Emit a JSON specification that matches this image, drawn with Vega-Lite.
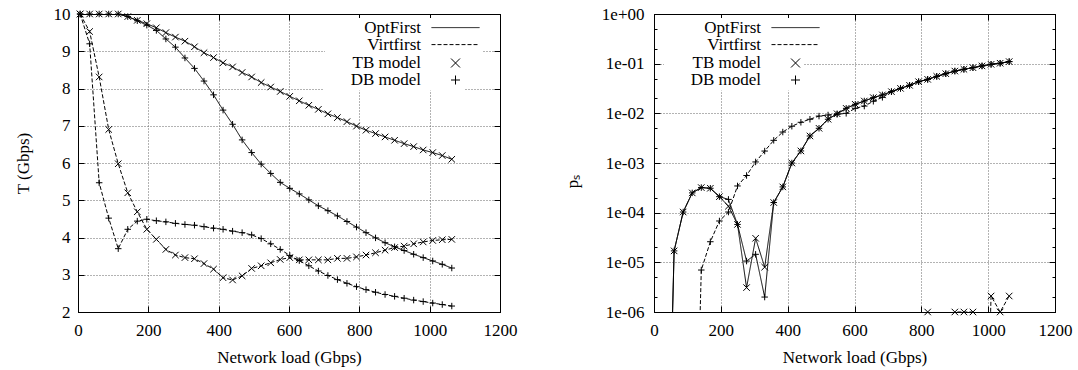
{
  "$schema": "https://vega.github.io/schema/vega-lite/v6.json",
  "background": "white",
  "padding": {"left": 13, "top": 4, "right": 5, "bottom": 5},
  "bounds": "flush",
  "spacing": 154,
  "config": {
    "font": "Liberation Serif",
    "view": {"stroke": "black", "strokeWidth": 1},
    "axis": {"labelFont": "Liberation Serif", "titleFont": "Liberation Serif", "labelFontSize": 17, "titleFontSize": 17, "titleFontWeight": "normal", "labelColor": "black", "titleColor": "black", "domainColor": "black", "tickColor": "black", "tickWidth": 1, "domainWidth": 1, "gridColor": "#666666", "gridDash": [1, 2], "gridWidth": 1, "labelOverlap": false, "labelFlush": false},
    "legend": {"labelFont": "Liberation Serif", "labelFontSize": 17, "labelColor": "black"}
  },
  "resolve": {"scale": {"strokeDash": "independent", "shape": "independent"}},
  "datasets": {
    "T": [
      {"load":6,"value":10,"method":"OptFirst","model":"TB model"},
      {"load":33.1,"value":10,"method":"OptFirst","model":"TB model"},
      {"load":60.2,"value":10,"method":"OptFirst","model":"TB model"},
      {"load":87.3,"value":10,"method":"OptFirst","model":"TB model"},
      {"load":114.4,"value":10,"method":"OptFirst","model":"TB model"},
      {"load":141.5,"value":9.93,"method":"OptFirst","model":"TB model"},
      {"load":168.6,"value":9.83,"method":"OptFirst","model":"TB model"},
      {"load":195.7,"value":9.74,"method":"OptFirst","model":"TB model"},
      {"load":222.8,"value":9.63,"method":"OptFirst","model":"TB model"},
      {"load":249.9,"value":9.5,"method":"OptFirst","model":"TB model"},
      {"load":277,"value":9.38,"method":"OptFirst","model":"TB model"},
      {"load":304.1,"value":9.27,"method":"OptFirst","model":"TB model"},
      {"load":331.2,"value":9.12,"method":"OptFirst","model":"TB model"},
      {"load":358.3,"value":8.96,"method":"OptFirst","model":"TB model"},
      {"load":385.4,"value":8.83,"method":"OptFirst","model":"TB model"},
      {"load":412.5,"value":8.69,"method":"OptFirst","model":"TB model"},
      {"load":439.6,"value":8.58,"method":"OptFirst","model":"TB model"},
      {"load":466.7,"value":8.43,"method":"OptFirst","model":"TB model"},
      {"load":493.8,"value":8.31,"method":"OptFirst","model":"TB model"},
      {"load":520.9,"value":8.16,"method":"OptFirst","model":"TB model"},
      {"load":548,"value":8.04,"method":"OptFirst","model":"TB model"},
      {"load":575.1,"value":7.92,"method":"OptFirst","model":"TB model"},
      {"load":602.2,"value":7.79,"method":"OptFirst","model":"TB model"},
      {"load":629.3,"value":7.67,"method":"OptFirst","model":"TB model"},
      {"load":656.4,"value":7.55,"method":"OptFirst","model":"TB model"},
      {"load":683.5,"value":7.44,"method":"OptFirst","model":"TB model"},
      {"load":710.6,"value":7.32,"method":"OptFirst","model":"TB model"},
      {"load":737.7,"value":7.22,"method":"OptFirst","model":"TB model"},
      {"load":764.8,"value":7.11,"method":"OptFirst","model":"TB model"},
      {"load":791.9,"value":6.99,"method":"OptFirst","model":"TB model"},
      {"load":819,"value":6.88,"method":"OptFirst","model":"TB model"},
      {"load":846.1,"value":6.79,"method":"OptFirst","model":"TB model"},
      {"load":873.2,"value":6.7,"method":"OptFirst","model":"TB model"},
      {"load":900.3,"value":6.61,"method":"OptFirst","model":"TB model"},
      {"load":927.4,"value":6.52,"method":"OptFirst","model":"TB model"},
      {"load":954.5,"value":6.44,"method":"OptFirst","model":"TB model"},
      {"load":981.6,"value":6.35,"method":"OptFirst","model":"TB model"},
      {"load":1008.7,"value":6.28,"method":"OptFirst","model":"TB model"},
      {"load":1035.8,"value":6.2,"method":"OptFirst","model":"TB model"},
      {"load":1062.9,"value":6.1,"method":"OptFirst","model":"TB model"},

      {"load":6,"value":10,"method":"OptFirst","model":"DB model"},
      {"load":33.1,"value":10,"method":"OptFirst","model":"DB model"},
      {"load":60.2,"value":10,"method":"OptFirst","model":"DB model"},
      {"load":87.3,"value":10,"method":"OptFirst","model":"DB model"},
      {"load":114.4,"value":10,"method":"OptFirst","model":"DB model"},
      {"load":141.5,"value":9.93,"method":"OptFirst","model":"DB model"},
      {"load":168.6,"value":9.82,"method":"OptFirst","model":"DB model"},
      {"load":195.7,"value":9.7,"method":"OptFirst","model":"DB model"},
      {"load":222.8,"value":9.56,"method":"OptFirst","model":"DB model"},
      {"load":249.9,"value":9.33,"method":"OptFirst","model":"DB model"},
      {"load":277,"value":9.11,"method":"OptFirst","model":"DB model"},
      {"load":304.1,"value":8.82,"method":"OptFirst","model":"DB model"},
      {"load":331.2,"value":8.54,"method":"OptFirst","model":"DB model"},
      {"load":358.3,"value":8.2,"method":"OptFirst","model":"DB model"},
      {"load":385.4,"value":7.83,"method":"OptFirst","model":"DB model"},
      {"load":412.5,"value":7.42,"method":"OptFirst","model":"DB model"},
      {"load":439.6,"value":7.04,"method":"OptFirst","model":"DB model"},
      {"load":466.7,"value":6.62,"method":"OptFirst","model":"DB model"},
      {"load":493.8,"value":6.28,"method":"OptFirst","model":"DB model"},
      {"load":520.9,"value":5.97,"method":"OptFirst","model":"DB model"},
      {"load":548,"value":5.72,"method":"OptFirst","model":"DB model"},
      {"load":575.1,"value":5.48,"method":"OptFirst","model":"DB model"},
      {"load":602.2,"value":5.32,"method":"OptFirst","model":"DB model"},
      {"load":629.3,"value":5.17,"method":"OptFirst","model":"DB model"},
      {"load":656.4,"value":5.01,"method":"OptFirst","model":"DB model"},
      {"load":683.5,"value":4.85,"method":"OptFirst","model":"DB model"},
      {"load":710.6,"value":4.72,"method":"OptFirst","model":"DB model"},
      {"load":737.7,"value":4.58,"method":"OptFirst","model":"DB model"},
      {"load":764.8,"value":4.43,"method":"OptFirst","model":"DB model"},
      {"load":791.9,"value":4.28,"method":"OptFirst","model":"DB model"},
      {"load":819,"value":4.13,"method":"OptFirst","model":"DB model"},
      {"load":846.1,"value":3.99,"method":"OptFirst","model":"DB model"},
      {"load":873.2,"value":3.86,"method":"OptFirst","model":"DB model"},
      {"load":900.3,"value":3.75,"method":"OptFirst","model":"DB model"},
      {"load":927.4,"value":3.65,"method":"OptFirst","model":"DB model"},
      {"load":954.5,"value":3.55,"method":"OptFirst","model":"DB model"},
      {"load":981.6,"value":3.46,"method":"OptFirst","model":"DB model"},
      {"load":1008.7,"value":3.37,"method":"OptFirst","model":"DB model"},
      {"load":1035.8,"value":3.28,"method":"OptFirst","model":"DB model"},
      {"load":1062.9,"value":3.18,"method":"OptFirst","model":"DB model"},

      {"load":6,"value":10,"method":"Virtfirst","model":"TB model"},
      {"load":33.1,"value":9.53,"method":"Virtfirst","model":"TB model"},
      {"load":60.2,"value":8.31,"method":"Virtfirst","model":"TB model"},
      {"load":87.3,"value":6.9,"method":"Virtfirst","model":"TB model"},
      {"load":114.4,"value":5.98,"method":"Virtfirst","model":"TB model"},
      {"load":141.5,"value":5.2,"method":"Virtfirst","model":"TB model"},
      {"load":168.6,"value":4.69,"method":"Virtfirst","model":"TB model"},
      {"load":195.7,"value":4.22,"method":"Virtfirst","model":"TB model"},
      {"load":222.8,"value":3.95,"method":"Virtfirst","model":"TB model"},
      {"load":249.9,"value":3.68,"method":"Virtfirst","model":"TB model"},
      {"load":277,"value":3.53,"method":"Virtfirst","model":"TB model"},
      {"load":304.1,"value":3.46,"method":"Virtfirst","model":"TB model"},
      {"load":331.2,"value":3.43,"method":"Virtfirst","model":"TB model"},
      {"load":358.3,"value":3.3,"method":"Virtfirst","model":"TB model"},
      {"load":385.4,"value":3.15,"method":"Virtfirst","model":"TB model"},
      {"load":412.5,"value":2.92,"method":"Virtfirst","model":"TB model"},
      {"load":439.6,"value":2.86,"method":"Virtfirst","model":"TB model"},
      {"load":466.7,"value":2.97,"method":"Virtfirst","model":"TB model"},
      {"load":493.8,"value":3.17,"method":"Virtfirst","model":"TB model"},
      {"load":520.9,"value":3.24,"method":"Virtfirst","model":"TB model"},
      {"load":548,"value":3.32,"method":"Virtfirst","model":"TB model"},
      {"load":575.1,"value":3.41,"method":"Virtfirst","model":"TB model"},
      {"load":602.2,"value":3.46,"method":"Virtfirst","model":"TB model"},
      {"load":629.3,"value":3.4,"method":"Virtfirst","model":"TB model"},
      {"load":656.4,"value":3.4,"method":"Virtfirst","model":"TB model"},
      {"load":683.5,"value":3.4,"method":"Virtfirst","model":"TB model"},
      {"load":710.6,"value":3.4,"method":"Virtfirst","model":"TB model"},
      {"load":737.7,"value":3.44,"method":"Virtfirst","model":"TB model"},
      {"load":764.8,"value":3.44,"method":"Virtfirst","model":"TB model"},
      {"load":791.9,"value":3.48,"method":"Virtfirst","model":"TB model"},
      {"load":819,"value":3.53,"method":"Virtfirst","model":"TB model"},
      {"load":846.1,"value":3.59,"method":"Virtfirst","model":"TB model"},
      {"load":873.2,"value":3.66,"method":"Virtfirst","model":"TB model"},
      {"load":900.3,"value":3.73,"method":"Virtfirst","model":"TB model"},
      {"load":927.4,"value":3.77,"method":"Virtfirst","model":"TB model"},
      {"load":954.5,"value":3.83,"method":"Virtfirst","model":"TB model"},
      {"load":981.6,"value":3.88,"method":"Virtfirst","model":"TB model"},
      {"load":1008.7,"value":3.92,"method":"Virtfirst","model":"TB model"},
      {"load":1035.8,"value":3.94,"method":"Virtfirst","model":"TB model"},
      {"load":1062.9,"value":3.95,"method":"Virtfirst","model":"TB model"},

      {"load":6,"value":10,"method":"Virtfirst","model":"DB model"},
      {"load":33.1,"value":9.2,"method":"Virtfirst","model":"DB model"},
      {"load":60.2,"value":5.47,"method":"Virtfirst","model":"DB model"},
      {"load":87.3,"value":4.52,"method":"Virtfirst","model":"DB model"},
      {"load":114.4,"value":3.7,"method":"Virtfirst","model":"DB model"},
      {"load":141.5,"value":4.22,"method":"Virtfirst","model":"DB model"},
      {"load":168.6,"value":4.44,"method":"Virtfirst","model":"DB model"},
      {"load":195.7,"value":4.49,"method":"Virtfirst","model":"DB model"},
      {"load":222.8,"value":4.45,"method":"Virtfirst","model":"DB model"},
      {"load":249.9,"value":4.42,"method":"Virtfirst","model":"DB model"},
      {"load":277,"value":4.38,"method":"Virtfirst","model":"DB model"},
      {"load":304.1,"value":4.35,"method":"Virtfirst","model":"DB model"},
      {"load":331.2,"value":4.33,"method":"Virtfirst","model":"DB model"},
      {"load":358.3,"value":4.29,"method":"Virtfirst","model":"DB model"},
      {"load":385.4,"value":4.25,"method":"Virtfirst","model":"DB model"},
      {"load":412.5,"value":4.22,"method":"Virtfirst","model":"DB model"},
      {"load":439.6,"value":4.17,"method":"Virtfirst","model":"DB model"},
      {"load":466.7,"value":4.13,"method":"Virtfirst","model":"DB model"},
      {"load":493.8,"value":4.07,"method":"Virtfirst","model":"DB model"},
      {"load":520.9,"value":3.97,"method":"Virtfirst","model":"DB model"},
      {"load":548,"value":3.83,"method":"Virtfirst","model":"DB model"},
      {"load":575.1,"value":3.68,"method":"Virtfirst","model":"DB model"},
      {"load":602.2,"value":3.52,"method":"Virtfirst","model":"DB model"},
      {"load":629.3,"value":3.38,"method":"Virtfirst","model":"DB model"},
      {"load":656.4,"value":3.24,"method":"Virtfirst","model":"DB model"},
      {"load":683.5,"value":3.1,"method":"Virtfirst","model":"DB model"},
      {"load":710.6,"value":2.98,"method":"Virtfirst","model":"DB model"},
      {"load":737.7,"value":2.87,"method":"Virtfirst","model":"DB model"},
      {"load":764.8,"value":2.77,"method":"Virtfirst","model":"DB model"},
      {"load":791.9,"value":2.68,"method":"Virtfirst","model":"DB model"},
      {"load":819,"value":2.6,"method":"Virtfirst","model":"DB model"},
      {"load":846.1,"value":2.53,"method":"Virtfirst","model":"DB model"},
      {"load":873.2,"value":2.47,"method":"Virtfirst","model":"DB model"},
      {"load":900.3,"value":2.42,"method":"Virtfirst","model":"DB model"},
      {"load":927.4,"value":2.37,"method":"Virtfirst","model":"DB model"},
      {"load":954.5,"value":2.32,"method":"Virtfirst","model":"DB model"},
      {"load":981.6,"value":2.28,"method":"Virtfirst","model":"DB model"},
      {"load":1008.7,"value":2.24,"method":"Virtfirst","model":"DB model"},
      {"load":1035.8,"value":2.2,"method":"Virtfirst","model":"DB model"},
      {"load":1062.9,"value":2.16,"method":"Virtfirst","model":"DB model"}
    ],
    "P": [
      {"load":33.1,"value":1e-12,"method":"OptFirst","model":"TB model"},
      {"load":60.2,"value":1.7e-5,"method":"OptFirst","model":"TB model"},
      {"load":87.3,"value":1.03e-4,"method":"OptFirst","model":"TB model"},
      {"load":114.4,"value":2.5e-4,"method":"OptFirst","model":"TB model"},
      {"load":141.5,"value":3.2e-4,"method":"OptFirst","model":"TB model"},
      {"load":168.6,"value":3.1e-4,"method":"OptFirst","model":"TB model"},
      {"load":195.7,"value":2.1e-4,"method":"OptFirst","model":"TB model"},
      {"load":222.8,"value":1.35e-4,"method":"OptFirst","model":"TB model"},
      {"load":249.9,"value":5.8e-5,"method":"OptFirst","model":"TB model"},
      {"load":277,"value":3.1e-6,"method":"OptFirst","model":"TB model"},
      {"load":304.1,"value":3.05e-5,"method":"OptFirst","model":"TB model"},
      {"load":331.2,"value":8e-6,"method":"OptFirst","model":"TB model"},
      {"load":358.3,"value":1.6e-4,"method":"OptFirst","model":"TB model"},
      {"load":385.4,"value":3.3e-4,"method":"OptFirst","model":"TB model"},
      {"load":412.5,"value":1e-3,"method":"OptFirst","model":"TB model"},
      {"load":439.6,"value":1.75e-3,"method":"OptFirst","model":"TB model"},
      {"load":466.7,"value":3.5e-3,"method":"OptFirst","model":"TB model"},
      {"load":493.8,"value":5e-3,"method":"OptFirst","model":"TB model"},
      {"load":520.9,"value":7.6e-3,"method":"OptFirst","model":"TB model"},
      {"load":548,"value":9.8e-3,"method":"OptFirst","model":"TB model"},
      {"load":575.1,"value":1.26e-2,"method":"OptFirst","model":"TB model"},
      {"load":602.2,"value":1.52e-2,"method":"OptFirst","model":"TB model"},
      {"load":629.3,"value":1.77e-2,"method":"OptFirst","model":"TB model"},
      {"load":656.4,"value":2.07e-2,"method":"OptFirst","model":"TB model"},
      {"load":683.5,"value":2.35e-2,"method":"OptFirst","model":"TB model"},
      {"load":710.6,"value":2.73e-2,"method":"OptFirst","model":"TB model"},
      {"load":737.7,"value":3.18e-2,"method":"OptFirst","model":"TB model"},
      {"load":764.8,"value":3.66e-2,"method":"OptFirst","model":"TB model"},
      {"load":791.9,"value":4.33e-2,"method":"OptFirst","model":"TB model"},
      {"load":819,"value":4.83e-2,"method":"OptFirst","model":"TB model"},
      {"load":846.1,"value":5.55e-2,"method":"OptFirst","model":"TB model"},
      {"load":873.2,"value":6.28e-2,"method":"OptFirst","model":"TB model"},
      {"load":900.3,"value":7.1e-2,"method":"OptFirst","model":"TB model"},
      {"load":927.4,"value":7.7e-2,"method":"OptFirst","model":"TB model"},
      {"load":954.5,"value":8.3e-2,"method":"OptFirst","model":"TB model"},
      {"load":981.6,"value":9e-2,"method":"OptFirst","model":"TB model"},
      {"load":1008.7,"value":9.7e-2,"method":"OptFirst","model":"TB model"},
      {"load":1035.8,"value":0.102,"method":"OptFirst","model":"TB model"},
      {"load":1062.9,"value":0.11,"method":"OptFirst","model":"TB model"},

      {"load":33.1,"value":1e-12,"method":"OptFirst","model":"DB model"},
      {"load":60.2,"value":1.7e-5,"method":"OptFirst","model":"DB model"},
      {"load":87.3,"value":1.03e-4,"method":"OptFirst","model":"DB model"},
      {"load":114.4,"value":2.5e-4,"method":"OptFirst","model":"DB model"},
      {"load":141.5,"value":3.2e-4,"method":"OptFirst","model":"DB model"},
      {"load":168.6,"value":3.1e-4,"method":"OptFirst","model":"DB model"},
      {"load":195.7,"value":2.1e-4,"method":"OptFirst","model":"DB model"},
      {"load":222.8,"value":1.85e-4,"method":"OptFirst","model":"DB model"},
      {"load":249.9,"value":5.8e-5,"method":"OptFirst","model":"DB model"},
      {"load":277,"value":1.06e-5,"method":"OptFirst","model":"DB model"},
      {"load":304.1,"value":1.45e-5,"method":"OptFirst","model":"DB model"},
      {"load":331.2,"value":2e-6,"method":"OptFirst","model":"DB model"},
      {"load":358.3,"value":1.6e-4,"method":"OptFirst","model":"DB model"},
      {"load":385.4,"value":3.3e-4,"method":"OptFirst","model":"DB model"},
      {"load":412.5,"value":1e-3,"method":"OptFirst","model":"DB model"},
      {"load":439.6,"value":1.75e-3,"method":"OptFirst","model":"DB model"},
      {"load":466.7,"value":3.5e-3,"method":"OptFirst","model":"DB model"},
      {"load":493.8,"value":5e-3,"method":"OptFirst","model":"DB model"},
      {"load":520.9,"value":7.6e-3,"method":"OptFirst","model":"DB model"},
      {"load":548,"value":9.8e-3,"method":"OptFirst","model":"DB model"},
      {"load":575.1,"value":1.26e-2,"method":"OptFirst","model":"DB model"},
      {"load":602.2,"value":1.52e-2,"method":"OptFirst","model":"DB model"},
      {"load":629.3,"value":1.77e-2,"method":"OptFirst","model":"DB model"},
      {"load":656.4,"value":2.07e-2,"method":"OptFirst","model":"DB model"},
      {"load":683.5,"value":2.35e-2,"method":"OptFirst","model":"DB model"},
      {"load":710.6,"value":2.73e-2,"method":"OptFirst","model":"DB model"},
      {"load":737.7,"value":3.18e-2,"method":"OptFirst","model":"DB model"},
      {"load":764.8,"value":3.66e-2,"method":"OptFirst","model":"DB model"},
      {"load":791.9,"value":4.33e-2,"method":"OptFirst","model":"DB model"},
      {"load":819,"value":4.83e-2,"method":"OptFirst","model":"DB model"},
      {"load":846.1,"value":5.55e-2,"method":"OptFirst","model":"DB model"},
      {"load":873.2,"value":6.28e-2,"method":"OptFirst","model":"DB model"},
      {"load":900.3,"value":7.1e-2,"method":"OptFirst","model":"DB model"},
      {"load":927.4,"value":7.7e-2,"method":"OptFirst","model":"DB model"},
      {"load":954.5,"value":8.3e-2,"method":"OptFirst","model":"DB model"},
      {"load":981.6,"value":9e-2,"method":"OptFirst","model":"DB model"},
      {"load":1008.7,"value":9.7e-2,"method":"OptFirst","model":"DB model"},
      {"load":1035.8,"value":0.102,"method":"OptFirst","model":"DB model"},
      {"load":1062.9,"value":0.11,"method":"OptFirst","model":"DB model"},

      {"load":114.4,"value":1e-12,"method":"Virtfirst","model":"DB model"},
      {"load":141.5,"value":7e-6,"method":"Virtfirst","model":"DB model"},
      {"load":168.6,"value":2.6e-5,"method":"Virtfirst","model":"DB model"},
      {"load":195.7,"value":6.8e-5,"method":"Virtfirst","model":"DB model"},
      {"load":222.8,"value":1.03e-4,"method":"Virtfirst","model":"DB model"},
      {"load":249.9,"value":3.45e-4,"method":"Virtfirst","model":"DB model"},
      {"load":277,"value":5.6e-4,"method":"Virtfirst","model":"DB model"},
      {"load":304.1,"value":1.05e-3,"method":"Virtfirst","model":"DB model"},
      {"load":331.2,"value":1.74e-3,"method":"Virtfirst","model":"DB model"},
      {"load":358.3,"value":2.86e-3,"method":"Virtfirst","model":"DB model"},
      {"load":385.4,"value":4.2e-3,"method":"Virtfirst","model":"DB model"},
      {"load":412.5,"value":5.5e-3,"method":"Virtfirst","model":"DB model"},
      {"load":439.6,"value":6.6e-3,"method":"Virtfirst","model":"DB model"},
      {"load":466.7,"value":7.6e-3,"method":"Virtfirst","model":"DB model"},
      {"load":493.8,"value":8.8e-3,"method":"Virtfirst","model":"DB model"},
      {"load":520.9,"value":9.25e-3,"method":"Virtfirst","model":"DB model"},
      {"load":548,"value":9.55e-3,"method":"Virtfirst","model":"DB model"},
      {"load":575.1,"value":1e-2,"method":"Virtfirst","model":"DB model"},
      {"load":602.2,"value":1.26e-2,"method":"Virtfirst","model":"DB model"},
      {"load":629.3,"value":1.4e-2,"method":"Virtfirst","model":"DB model"},
      {"load":656.4,"value":1.75e-2,"method":"Virtfirst","model":"DB model"},
      {"load":683.5,"value":2.1e-2,"method":"Virtfirst","model":"DB model"},
      {"load":710.6,"value":2.73e-2,"method":"Virtfirst","model":"DB model"},
      {"load":737.7,"value":3.18e-2,"method":"Virtfirst","model":"DB model"},
      {"load":764.8,"value":3.66e-2,"method":"Virtfirst","model":"DB model"},
      {"load":791.9,"value":4.33e-2,"method":"Virtfirst","model":"DB model"},
      {"load":819,"value":4.83e-2,"method":"Virtfirst","model":"DB model"},
      {"load":846.1,"value":5.55e-2,"method":"Virtfirst","model":"DB model"},
      {"load":873.2,"value":6.28e-2,"method":"Virtfirst","model":"DB model"},
      {"load":900.3,"value":7.1e-2,"method":"Virtfirst","model":"DB model"},
      {"load":927.4,"value":7.7e-2,"method":"Virtfirst","model":"DB model"},
      {"load":954.5,"value":8.3e-2,"method":"Virtfirst","model":"DB model"},
      {"load":981.6,"value":9e-2,"method":"Virtfirst","model":"DB model"},
      {"load":1008.7,"value":9.7e-2,"method":"Virtfirst","model":"DB model"},
      {"load":1035.8,"value":0.102,"method":"Virtfirst","model":"DB model"},
      {"load":1062.9,"value":0.11,"method":"Virtfirst","model":"DB model"},

      {"load":791.9,"value":1e-12,"method":"Virtfirst","model":"TB model"},
      {"load":819,"value":1e-6,"method":"Virtfirst","model":"TB model"},
      {"load":846.1,"value":1e-12,"method":"Virtfirst","model":"TB model"},
      {"load":873.2,"value":1e-12,"method":"Virtfirst","model":"TB model"},
      {"load":900.3,"value":1e-6,"method":"Virtfirst","model":"TB model"},
      {"load":927.4,"value":1e-6,"method":"Virtfirst","model":"TB model"},
      {"load":954.5,"value":1e-6,"method":"Virtfirst","model":"TB model"},
      {"load":981.6,"value":1e-12,"method":"Virtfirst","model":"TB model"},
      {"load":1008.7,"value":2.1e-6,"method":"Virtfirst","model":"TB model"},
      {"load":1035.8,"value":1e-6,"method":"Virtfirst","model":"TB model"},
      {"load":1062.9,"value":2.1e-6,"method":"Virtfirst","model":"TB model"}
    ]
  },
  "hconcat": [
    {
      "width": 422,
      "height": 298,
      "data": {"name": "T"},
      "resolve": {"axis": {"x": "independent", "y": "independent"}},
      "layer": [
        {
          "mark": {"type": "line", "color": "black", "strokeWidth": 1, "clip": true},
          "encoding": {
            "x": {"field": "load", "type": "quantitative", "scale": {"domain": [0, 1200], "nice": false, "zero": false},
                  "axis": {"orient": "bottom", "values": [0, 200, 400, 600, 800, 1000, 1200], "format": "d", "grid": true, "tickSize": -6, "labelPadding": 16, "labelFlush": false, "title": "Network load (Gbps)", "titlePadding": 11}},
            "y": {"field": "value", "type": "quantitative", "scale": {"domain": [2, 10], "nice": false, "zero": false},
                  "axis": {"orient": "left", "values": [2, 3, 4, 5, 6, 7, 8, 9, 10], "format": "d", "grid": true, "tickSize": -6, "labelPadding": 14, "title": "T (Gbps)", "titlePadding": 21}},
            "strokeDash": {"field": "method", "type": "nominal",
                  "scale": {"domain": ["OptFirst", "Virtfirst"], "range": [[1, 0], [4, 2]]},
                  "legend": {"orient": "none", "legendX": 247, "legendY": 4.1, "zindex": 2, "title": null, "labelAlign": "right", "labelOffset": -43, "symbolOffset": 121, "symbolSize": 16, "symbolType": "M-12,0L12,0", "symbolStrokeWidth": 1, "symbolStrokeColor": "black", "symbolFillColor": "transparent", "rowPadding": -1, "padding": 1, "fillColor": "white"}},
            "detail": {"field": "model", "type": "nominal"}
          }
        },
        {
          "mark": {"type": "point", "filled": false, "color": "black", "strokeWidth": 1, "size": 42, "opacity": 1},
          "encoding": {
            "x": {"field": "load", "type": "quantitative", "scale": {"domain": [0, 1200], "nice": false, "zero": false},
                  "axis": {"orient": "top", "values": [0, 200, 400, 600, 800, 1000, 1200], "grid": false, "labels": false, "tickSize": -6, "title": null}},
            "y": {"field": "value", "type": "quantitative", "scale": {"domain": [2, 10], "nice": false, "zero": false},
                  "axis": {"orient": "right", "values": [2, 3, 4, 5, 6, 7, 8, 9, 10], "grid": false, "labels": false, "tickSize": -6, "title": null}},
            "shape": {"field": "model", "type": "nominal",
                  "scale": {"domain": ["TB model", "DB model"], "range": ["M-1,-1L1,1M-1,1L1,-1", "M-1,0L1,0M0,-1L0,1"]},
                  "legend": {"orient": "none", "legendX": 246, "legendY": 38.5, "zindex": 1, "title": null, "labelAlign": "right", "labelOffset": -43, "symbolOffset": 121, "symbolSize": 81, "symbolStrokeWidth": 1, "symbolStrokeColor": "black", "symbolFillColor": "transparent", "rowPadding": -1, "padding": 2, "fillColor": "white"}}
          }
        }
      ]
    },
    {
      "width": 401,
      "height": 298,
      "data": {"name": "P"},
      "resolve": {"axis": {"x": "independent", "y": "independent"}},
      "layer": [
        {
          "mark": {"type": "line", "color": "black", "strokeWidth": 1, "clip": true},
          "encoding": {
            "x": {"field": "load", "type": "quantitative", "scale": {"domain": [0, 1200], "nice": false, "zero": false},
                  "axis": {"orient": "bottom", "values": [0, 200, 400, 600, 800, 1000, 1200], "format": "d", "grid": true, "tickSize": -6, "labelPadding": 16, "labelFlush": false, "title": "Network load (Gbps)", "titlePadding": 11}},
            "y": {"field": "value", "type": "quantitative", "scale": {"type": "log", "domain": [1e-6, 1], "nice": false},
                  "axis": {"orient": "left", "values": [1e-6, 2e-6, 5e-6, 1e-5, 2e-5, 5e-5, 1e-4, 2e-4, 5e-4, 0.001, 0.002, 0.005, 0.01, 0.02, 0.05, 0.1, 0.2, 0.5, 1],
                           "labelExpr": "abs(log(datum.value)/LN10 - round(log(datum.value)/LN10)) > 0.01 ? '' : (datum.value > 0.5 ? '1e+00' : '1e-0' + (-round(log(datum.value)/LN10)))",
                           "grid": true,
                           "gridOpacity": {"condition": {"test": "abs(log(datum.value)/LN10 - round(log(datum.value)/LN10)) > 0.01", "value": 0}, "value": 1},
                           "tickSize": {"condition": {"test": "abs(log(datum.value)/LN10 - round(log(datum.value)/LN10)) > 0.01", "value": -3}, "value": -6},
                           "labelPadding": 16, "title": "pₛ", "titlePadding": 20, "titleY": 167}},
            "strokeDash": {"field": "method", "type": "nominal",
                  "scale": {"domain": ["OptFirst", "Virtfirst"], "range": [[1, 0], [4, 2]]},
                  "legend": {"orient": "none", "legendX": 11, "legendY": 4.1, "zindex": 2, "title": null, "labelAlign": "right", "labelOffset": -43, "symbolOffset": 121, "symbolSize": 16, "symbolType": "M-12,0L12,0", "symbolStrokeWidth": 1, "symbolStrokeColor": "black", "symbolFillColor": "transparent", "rowPadding": -1, "padding": 1, "fillColor": "white"}},
            "detail": {"field": "model", "type": "nominal"}
          }
        },
        {
          "transform": [{"filter": "datum.value >= 1e-6"}],
          "mark": {"type": "point", "filled": false, "color": "black", "strokeWidth": 1, "size": 42, "opacity": 1},
          "encoding": {
            "x": {"field": "load", "type": "quantitative", "scale": {"domain": [0, 1200], "nice": false, "zero": false},
                  "axis": {"orient": "top", "values": [0, 200, 400, 600, 800, 1000, 1200], "grid": false, "labels": false, "tickSize": -6, "title": null}},
            "y": {"field": "value", "type": "quantitative", "scale": {"type": "log", "domain": [1e-6, 1], "nice": false},
                  "axis": {"orient": "right", "values": [1e-6, 2e-6, 5e-6, 1e-5, 2e-5, 5e-5, 1e-4, 2e-4, 5e-4, 0.001, 0.002, 0.005, 0.01, 0.02, 0.05, 0.1, 0.2, 0.5, 1],
                           "grid": false, "labels": false, "title": null,
                           "tickSize": {"condition": {"test": "abs(log(datum.value)/LN10 - round(log(datum.value)/LN10)) > 0.01", "value": -3}, "value": -6}}},
            "shape": {"field": "model", "type": "nominal",
                  "scale": {"domain": ["TB model", "DB model"], "range": ["M-1,-1L1,1M-1,1L1,-1", "M-1,0L1,0M0,-1L0,1"]},
                  "legend": {"orient": "none", "legendX": 10, "legendY": 38.5, "zindex": 1, "title": null, "labelAlign": "right", "labelOffset": -43, "symbolOffset": 121, "symbolSize": 81, "symbolStrokeWidth": 1, "symbolStrokeColor": "black", "symbolFillColor": "transparent", "rowPadding": -1, "padding": 2, "fillColor": "white"}}
          }
        }
      ]
    }
  ]
}
